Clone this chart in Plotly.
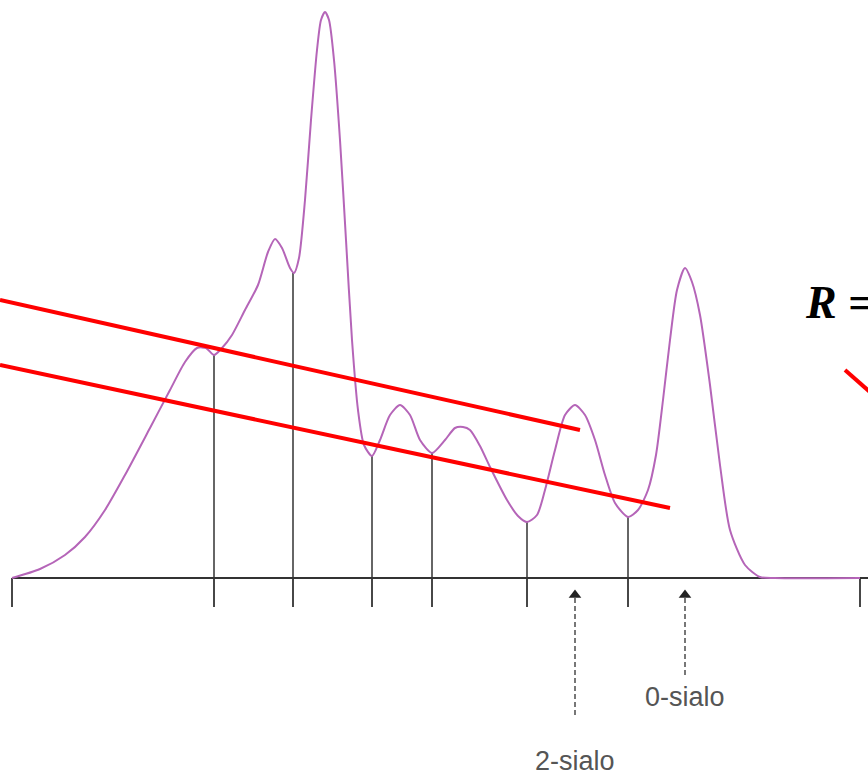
import plotly.graph_objects as go

BASE = 578  # baseline pixel row used to convert to heights

# Chromatogram curve (x, pixel row)
curve_x = [12,40,65,85,105,125,150,170,185,197,206,214,222,232,245,258,268,275,282,290,294,299,305,311,317,321,325,329,334,340,346,352,358,364,372,380,390,400,410,420,432,445,455,463,470,480,490,507,518,527,537,545,555,565,575,585,595,605,615,628,638,648,656,663,670,677,685,692,700,710,720,730,745,760,775,860]
curve_py = [578,569,555,537,510,475,428,390,362,348,348,355,348,335,310,285,252,239,248,268,273,258,200,120,50,20,12,20,60,140,240,340,410,445,456,440,415,405,415,440,453,440,428,427,430,446,467,500,516,522,515,490,450,415,405,415,440,475,503,517,510,490,455,400,340,290,268,282,315,385,465,530,565,577,578,578]
curve_y = [BASE - v for v in curve_py]

# drop lines at valleys
drop_x = [214, 293, 372, 432, 527, 628]
drop_top_py = [355, 273, 456, 453, 522, 517]
tick_x = [12, 214, 293, 372, 432, 527, 628, 860]

# red lines (x0, py0, x1, py1)
red_lines = [(0, 300, 580, 430), (0, 365, 670, 508), (845, 370, 870, 392)]

# arrows
arrow_x = [575, 685]
arrow_bottom_py = [715, 675]
labels = ["2-sialo", "0-sialo"]
label_py = [761, 697]

fig = go.Figure()

# baseline
fig.add_trace(go.Scatter(x=[12, 868], y=[0, 0], mode="lines",
                         line=dict(color="#333333", width=2), hoverinfo="skip"))
# ticks
for tx in tick_x:
    fig.add_trace(go.Scatter(x=[tx, tx], y=[0, BASE - 607], mode="lines",
                             line=dict(color="#333333", width=1.8), hoverinfo="skip"))
# drop lines
for dx, dp in zip(drop_x, drop_top_py):
    fig.add_trace(go.Scatter(x=[dx, dx], y=[BASE - dp, 0], mode="lines",
                             line=dict(color="#333333", width=1.5), hoverinfo="skip"))
# curve
fig.add_trace(go.Scatter(x=curve_x, y=curve_y, mode="lines",
                         line=dict(color="#b565b8", width=2, shape="spline", smoothing=0.7),
                         hoverinfo="skip"))
# red lines
for x0, p0, x1, p1 in red_lines:
    fig.add_trace(go.Scatter(x=[x0, x1], y=[BASE - p0, BASE - p1], mode="lines",
                             line=dict(color="#ff0000", width=4), hoverinfo="skip"))
# dashed arrows
for ax, bp in zip(arrow_x, arrow_bottom_py):
    fig.add_trace(go.Scatter(x=[ax, ax], y=[BASE - bp, BASE - 598], mode="lines",
                             line=dict(color="#777777", width=2, dash="5px,3px"), hoverinfo="skip"))
    fig.add_trace(go.Scatter(x=[ax], y=[BASE - 595], mode="markers",
                             marker=dict(symbol="triangle-up", size=11, color="#222222"),
                             hoverinfo="skip"))
for ax, lp, t in zip(arrow_x, label_py, labels):
    fig.add_annotation(x=ax, y=BASE - lp, text=t, showarrow=False,
                       font=dict(family="Liberation Sans, Arial", size=27, color="#555555"),
                       xanchor="center", yanchor="middle")

fig.add_annotation(x=803, y=BASE - 302, text="<b><i>R</i></b> <b>=</b>", showarrow=False,
                   xanchor="left", yanchor="middle",
                   font=dict(family="Liberation Serif, Times New Roman", size=46, color="#000000"))

fig.update_layout(
    width=868, height=775, margin=dict(l=0, r=0, t=0, b=0),
    paper_bgcolor="white", plot_bgcolor="white", showlegend=False,
    xaxis=dict(range=[0, 868], visible=False, fixedrange=True),
    yaxis=dict(range=[BASE - 775, BASE], visible=False, fixedrange=True),
)
fig.write_html("out.html", config={"displayModeBar": False},
               post_script="document.body.style.margin='0';document.body.style.overflow='hidden';")
